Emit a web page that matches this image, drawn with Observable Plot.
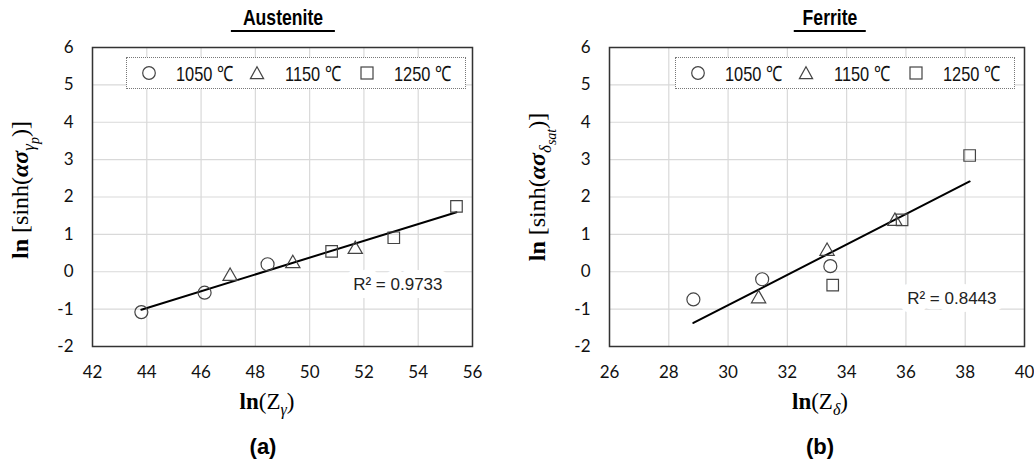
<!DOCTYPE html>
<html><head><meta charset="utf-8">
<script src="https://cdn.jsdelivr.net/npm/d3@7"></script>
<script src="https://cdn.jsdelivr.net/npm/@observablehq/plot@0.6"></script>
<style>
body{margin:0;background:#fff;}
#wrap{position:relative;width:1034px;height:464px;overflow:hidden;background:#fff;}
.panel{position:absolute;top:0;width:517px;height:464px;}
.ov{position:absolute;white-space:nowrap;}
.title{font-family:"Liberation Sans",Arial,sans-serif;font-weight:bold;font-size:22px;transform:translateX(-50%);border-bottom:2px solid #000;padding:0 2px 1px 2px;line-height:22px;color:#000;}
.title span{display:inline-block;transform:scaleX(0.8);}
.ylab{font-family:"Liberation Serif","DejaVu Serif",serif;font-size:24px;transform:translate(-50%,-50%) rotate(-90deg);color:#000;}
.xlab{font-family:"Liberation Serif","DejaVu Serif",serif;font-size:23px;transform:translate(-50%,-50%);color:#000;}
.sub{font-family:"Liberation Sans",Arial,sans-serif;font-weight:bold;font-size:22px;transform:translate(-50%,-50%);color:#000;}
.legend{position:absolute;top:57px;width:340px;height:32px;border:1px dotted #777;background:#fff;box-sizing:border-box;font-family:"Liberation Sans",Arial,sans-serif;font-size:21px;color:#111;}
.legend span{position:absolute;top:50%;white-space:nowrap;transform:translateY(-50%) scaleX(0.78);transform-origin:left center;}
.legend svg{position:absolute;top:50%;transform:translate(-50%,-50%);}
</style></head><body><div id="wrap"></div>
<script>
// ---- data ----
const series = ["1050 ℃", "1150 ℃", "1250 ℃"];
const seriesSymbols = ["circle", "triangle", "square"];

const austTemp = ["1050 ℃","1050 ℃","1050 ℃","1150 ℃","1150 ℃","1150 ℃","1250 ℃","1250 ℃","1250 ℃"];
const austX = [43.80, 46.13, 48.45, 47.07, 49.38, 51.68, 50.81, 53.10, 55.41];
const austY = [-1.08, -0.56, 0.20, -0.12, 0.22, 0.60, 0.545, 0.91, 1.75];

const ferrTemp = ["1050 ℃","1050 ℃","1050 ℃","1150 ℃","1150 ℃","1150 ℃","1250 ℃","1250 ℃","1250 ℃"];
const ferrX = [28.83, 31.15, 33.45, 31.03, 33.34, 35.63, 33.53, 35.87, 38.15];
const ferrY = [-0.74, -0.20, 0.15, -0.72, 0.55, 1.35, -0.36, 1.39, 3.11];

const austXTicks = [42, 44, 46, 48, 50, 52, 54, 56];
const ferrXTicks = [26, 28, 30, 32, 34, 36, 38, 40];
const yTicks = [-2, -1, 0, 1, 2, 3, 4, 5, 6];

const austR2 = ["R² = 0.9733"];
const ferrR2 = ["R² = 0.8443"];

// ---- chart ----
function makePlot(xs, ys, ts, xTicks, r2, r2dx, r2dy, marginRight) {
  const data = xs.map((x, i) => ({x, y: ys[i], t: ts[i]}));
  const dotOpts = (sym, r) => ({
    x: "x", y: "y", symbol: () => sym, r, fill: "none", stroke: "#444", strokeWidth: 1.2
  });
  return Plot.plot({
    width: 517, height: 464,
    marginLeft: 92, marginRight, marginTop: 47, marginBottom: 118,
    x: {domain: [xTicks[0], xTicks[xTicks.length - 1]]},
    y: {domain: [yTicks[0], yTicks[yTicks.length - 1]]},
    symbol: {domain: series, range: seriesSymbols},
    style: {fontFamily: "Lato, 'Open Sans', sans-serif", fontSize: "17px", color: "#111", background: "transparent", overflow: "visible"},
    marks: [
      Plot.gridX(xTicks, {stroke: "#d9d9d9", strokeOpacity: 1, strokeWidth: 1.2}),
      Plot.gridY(yTicks, {stroke: "#d9d9d9", strokeOpacity: 1, strokeWidth: 1.2}),
      Plot.axisX(xTicks, {tickSize: 0, tickPadding: 19, label: null, tickFormat: d => String(d), fontSize: 17, fill: "#111"}),
      Plot.axisY(yTicks, {tickSize: 0, tickPadding: 19, label: null, tickFormat: d => String(d), fontSize: 17, fill: "#111"}),
      Plot.text(r2, {frameAnchor: "bottom-right", dx: r2dx, dy: r2dy, textAnchor: "end",
        fontFamily: "'Liberation Sans',Arial,sans-serif", fontSize: 17,
        fill: "#222", stroke: "white", strokeWidth: 16, paintOrder: "stroke"}),
      Plot.linearRegressionY(data, {x: "x", y: "y", ci: 0, stroke: "#000", strokeWidth: 2}),
      Plot.dot(data.filter(d => d.t === series[0]), dotOpts(seriesSymbols[0], 6.5)),
      Plot.dot(data.filter(d => d.t === series[1]), dotOpts(seriesSymbols[1], 5.3)),
      Plot.dot(data.filter(d => d.t === series[2]), dotOpts(seriesSymbols[2], 6.5)),
      Plot.frame({stroke: "#333", strokeWidth: 1.5})
    ]
  });
}

const wrap = document.getElementById("wrap");

function addPanel(left, plot) {
  const p = document.createElement("div");
  p.className = "panel";
  p.style.left = left + "px";
  p.appendChild(plot);
  wrap.appendChild(p);
}
addPanel(0, makePlot(austX, austY, austTemp, austXTicks, austR2, -30, -57, 45));
addPanel(517, makePlot(ferrX, ferrY, ferrTemp, ferrXTicks, ferrR2, -28, -43, 10));

function ov(cls, x, y, html) {
  const d = document.createElement("div");
  d.className = "ov " + cls;
  d.style.left = x + "px";
  d.style.top = y + "px";
  d.innerHTML = html;
  wrap.appendChild(d);
}
ov("title", 283, 7, "<span>Austenite</span>");
ov("title", 830, 7, "<span>Ferrite</span>");
ov("ylab", 25, 190, "<b>ln</b> [sinh(<b><i>ασ</i></b><sub style='font-size:17px'><i>γ<sub style='font-size:14px'>p</sub></i></sub>)]");
ov("ylab", 542, 187, "<b>ln</b> [sinh(<b><i>ασ</i></b><sub style='font-size:17px'><i>δ<sub style='font-size:14px'>sat</sub></i></sub>)]");
ov("xlab", 267, 404, "<b>ln</b>(Z<sub style='font-size:16px'><i>γ</i></sub>)");
ov("xlab", 820, 404, "<b>ln</b>(Z<sub style='font-size:16px'><i>δ</i></sub>)");
ov("sub", 263, 447, "(a)");
ov("sub", 820, 447, "(b)");

function shape(sym) {
  const s = 16;
  let inner = "";
  if (sym === "circle") inner = "<circle cx='8' cy='8' r='6.3' fill='none' stroke='#444' stroke-width='1.2'/>";
  if (sym === "triangle") inner = "<polygon points='8,1.8 14.6,13.6 1.4,13.6' fill='none' stroke='#444' stroke-width='1.2'/>";
  if (sym === "square") inner = "<rect x='2' y='2' width='12' height='12' fill='none' stroke='#444' stroke-width='1.2'/>";
  return `<svg width='${s}' height='${s}' viewBox='0 0 16 16'>${inner}</svg>`;
}
function addLegend(left) {
  const d = document.createElement("div");
  d.className = "legend";
  d.style.left = left + "px";
  const symX = [22, 130, 240], txtX = [49, 158, 267];
  let h = "";
  series.forEach((s, i) => {
    h += `<div style="position:absolute;left:${symX[i]}px;top:0;height:100%">${shape(seriesSymbols[i])}</div>`;
    h += `<span style="left:${txtX[i]}px">${s}</span>`;
  });
  d.innerHTML = h;
  wrap.appendChild(d);
}
addLegend(126);
addLegend(675);
</script></body></html>
